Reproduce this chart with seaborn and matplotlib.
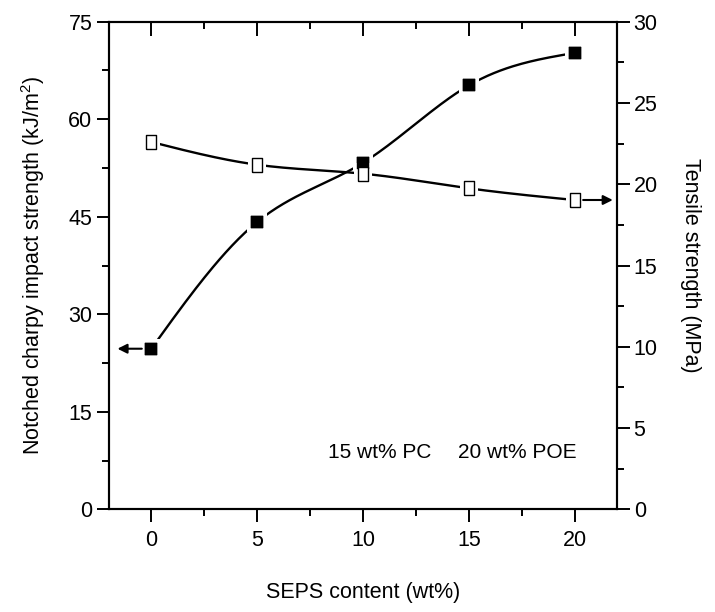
import numpy as np
import pandas as pd
import matplotlib
matplotlib.use("Agg")
import matplotlib.pyplot as plt
import seaborn as sns
from matplotlib.ticker import MultipleLocator

# ---- data ----
seps = [0, 5, 10, 15, 20]
impact = [24.7, 44.2, 53.3, 65.2, 70.2]        # kJ/m^2, left axis
tensile = [22.6, 21.2, 20.65, 19.75, 19.03]    # MPa, right axis
annot_pc = "15 wt% PC"
annot_poe = "20 wt% POE"


def natural_spline(x, y, n=200):
    x = np.asarray(x, float); y = np.asarray(y, float)
    k = len(x); h = np.diff(x)
    A = np.zeros((k, k)); b = np.zeros(k)
    A[0, 0] = A[-1, -1] = 1
    for i in range(1, k - 1):
        A[i, i - 1] = h[i - 1]; A[i, i] = 2 * (h[i - 1] + h[i]); A[i, i + 1] = h[i]
        b[i] = 3 * ((y[i + 1] - y[i]) / h[i] - (y[i] - y[i - 1]) / h[i - 1])
    c = np.linalg.solve(A, b)
    xs = np.linspace(x[0], x[-1], n); ys = np.empty_like(xs)
    for j, xv in enumerate(xs):
        i = min(np.searchsorted(x, xv, side="right") - 1, k - 2)
        dx = xv - x[i]
        bi = (y[i + 1] - y[i]) / h[i] - h[i] * (2 * c[i] + c[i + 1]) / 3
        di = (c[i + 1] - c[i]) / (3 * h[i])
        ys[j] = y[i] + bi * dx + c[i] * dx ** 2 + di * dx ** 3
    return xs, ys


sns.set_style("ticks")
plt.rcParams["font.family"] = ["Liberation Sans", "DejaVu Sans"]
plt.rcParams["mathtext.fontset"] = "custom"
plt.rcParams["mathtext.rm"] = "Liberation Sans"
for key in ("text.color", "axes.labelcolor", "xtick.color", "ytick.color", "axes.edgecolor"):
    plt.rcParams[key] = "black"

fig = plt.figure(figsize=(7.15, 6.12), dpi=100)
ax = fig.add_axes([109 / 715, 1 - 509.3 / 612, (617 - 109) / 715, (509.3 - 21.7) / 612])
ax2 = ax.twinx()

xs1, ys1 = natural_spline(seps, impact)
xs2, ys2 = natural_spline(seps, tensile)
sns.lineplot(x=xs1, y=ys1, ax=ax, color="black", lw=1.7, sort=False, zorder=2)
sns.lineplot(x=xs2, y=ys2, ax=ax2, color="black", lw=1.7, sort=False, zorder=2)

rect = [(-0.8, -1), (0.8, -1), (0.8, 1), (-0.8, 1), (-0.8, -1)]
halo = [(-0.9, -1), (0.9, -1), (0.9, 1), (-0.9, 1), (-0.9, -1)]
# white halos create the gaps between curve and markers
ax.scatter(seps, impact, marker="s", s=200, color="white", zorder=3, linewidths=0)
ax2.scatter(seps, tensile, marker=halo, s=230, color="white", zorder=3, linewidths=0)
sns.scatterplot(x=seps, y=impact, ax=ax, marker="s", s=78, color="black",
                edgecolor="black", linewidth=0.3, zorder=4)
# filled markers repeated above the open-marker halos
ax2.scatter(seps, impact, marker="s", s=78, color="black", linewidths=0.3,
            edgecolors="black", zorder=3.5, transform=ax.transData)
sns.scatterplot(x=seps, y=tensile, ax=ax2, marker=rect, s=88, facecolor="white",
                edgecolor="black", linewidth=1.0, zorder=4)

ax.set_xlim(-2, 22)
ax.set_ylim(0, 75)
ax2.set_ylim(0, 30)
ax.xaxis.set_major_locator(MultipleLocator(5))
ax.xaxis.set_minor_locator(MultipleLocator(2.5))
ax.yaxis.set_major_locator(MultipleLocator(15))
ax.yaxis.set_minor_locator(MultipleLocator(7.5))
ax2.yaxis.set_major_locator(MultipleLocator(5))
ax2.yaxis.set_minor_locator(MultipleLocator(2.5))

for a in (ax, ax2):
    for s in a.spines.values():
        s.set_linewidth(1.5)
        s.set_color("black")
ax.tick_params(axis="x", which="major", direction="out", length=9, width=1.4,
               labelsize=15.5, top=True, pad=6)
ax.tick_params(axis="x", which="minor", direction="out", length=5, width=1.4, top=True)
# top ticks inward
for t in ax.xaxis.get_major_ticks():
    t.tick2line.set_marker(3)
    t.tick2line.set_markersize(10)
for t in ax.xaxis.get_minor_ticks():
    t.tick2line.set_marker(3)
    t.tick2line.set_markersize(5)
ax.tick_params(axis="y", which="major", direction="out", length=9, width=1.4, labelsize=15.5, pad=3)
ax.tick_params(axis="y", which="minor", direction="out", length=5, width=1.4)
ax2.tick_params(axis="y", which="major", direction="out", length=9, width=1.4, labelsize=15.5, pad=3)
ax2.tick_params(axis="y", which="minor", direction="out", length=5, width=1.4)

ax.set_xlabel("SEPS content (wt%)", fontsize=15.5, labelpad=22)
ax.set_ylabel("Notched charpy impact strength (kJ/m$^2$)", fontsize=15.5, labelpad=15)
ax2.set_ylabel("Tensile strength (MPa)", fontsize=15.5, rotation=-90, labelpad=31)

ax.annotate("", xy=(-1.6, impact[0]), xytext=(-0.45, impact[0]),
            arrowprops=dict(arrowstyle="-|>", color="black", lw=1.5,
                            mutation_scale=14, shrinkA=0, shrinkB=0))
ax2.annotate("", xy=(21.8, tensile[-1]), xytext=(20.4, tensile[-1]),
             arrowprops=dict(arrowstyle="-|>", color="black", lw=1.5,
                             mutation_scale=14, shrinkA=0, shrinkB=0))

cond = dict(fontsize=15, family=["Liberation Sans Narrow", "Liberation Sans"],
            ha="center", va="center")
ax.text(10.8, 8.8, annot_pc, **cond)
ax.text(17.3, 8.8, annot_poe, **cond)

fig.savefig("out.png", dpi=100)
